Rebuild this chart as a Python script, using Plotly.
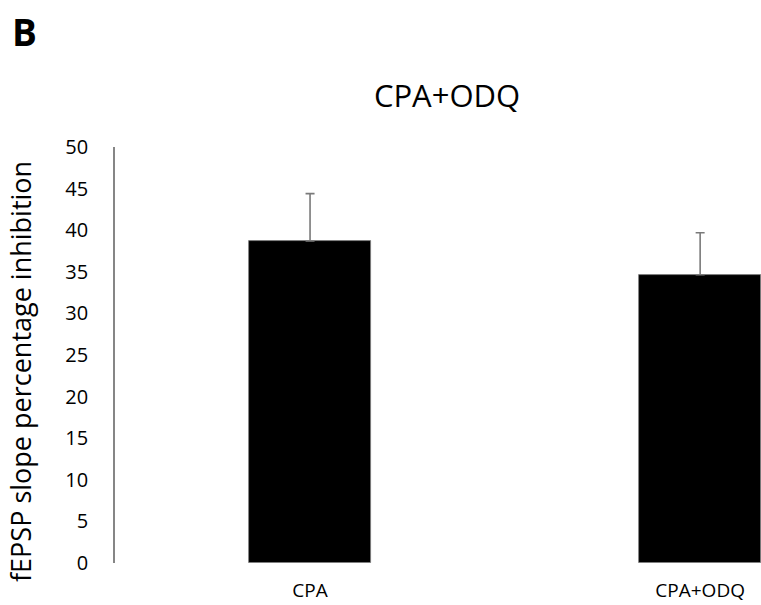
import plotly.graph_objects as go

categories = ["CPA", "CPA+ODQ"]
values = [38.7, 34.65]
errors_up = [5.7, 5.05]
y_ticks = [0, 5, 10, 15, 20, 25, 30, 35, 40, 45, 50]
title_text = "CPA+ODQ"
y_title = "fEPSP slope percentage inhibition"
panel_label = "B"

FONT = "Open Sans"
W, H = 761, 605
L, R, T, B = 115, 0, 147, 42
pw = W - L - R
ph = H - T - B

fig = go.Figure()
fig.add_trace(go.Bar(
    x=[0, 1], y=values, width=0.312,
    marker=dict(color="black", line=dict(color="#7f7f7f", width=0.8)),
    error_y=dict(type="data", array=errors_up, arrayminus=[0, 0], symmetric=False,
                 color="#7a7a7a", thickness=1.6, width=4.5),
    showlegend=False,
))

fig.update_layout(
    width=W, height=H,
    margin=dict(l=L, r=R, t=T, b=B),
    paper_bgcolor="white", plot_bgcolor="white",
    font=dict(family=FONT, color="black"),
    bargap=0,
    title=dict(text=title_text, font=dict(size=31, family=FONT, color="black"),
               xref="container", yref="container", x=447 / W, y=1 - 96 / H,
               xanchor="center", yanchor="middle"),
    xaxis=dict(range=[-0.5, 1.156], tickvals=[0, 1], ticktext=categories,
               showgrid=False, zeroline=False, showline=False, ticks="",
               tickfont=dict(size=19, family=FONT, color="black"),
               ticklabelstandoff=14, fixedrange=True),
    yaxis=dict(range=[0, 50], tickvals=y_ticks, showgrid=False, zeroline=False,
               showline=True, linecolor="#868686", linewidth=1.6, ticks="",
               tickfont=dict(size=20, family=FONT, color="black"),
               ticklabelstandoff=21, fixedrange=True),
    annotations=[
        dict(text=y_title, textangle=-90, xref="paper", yref="paper",
             x=(20 - L) / pw, y=(H - B - 372) / ph, xanchor="center", yanchor="middle",
             showarrow=False, font=dict(size=27, family=FONT, color="black")),
        dict(text="<b>" + panel_label + "</b>", xref="paper", yref="paper",
             x=(10 - L) / pw, y=(H - B - 31) / ph, xanchor="left", yanchor="middle",
             showarrow=False, font=dict(size=37, family=FONT, color="black")),
    ],
)

fig.write_html("out.html")
